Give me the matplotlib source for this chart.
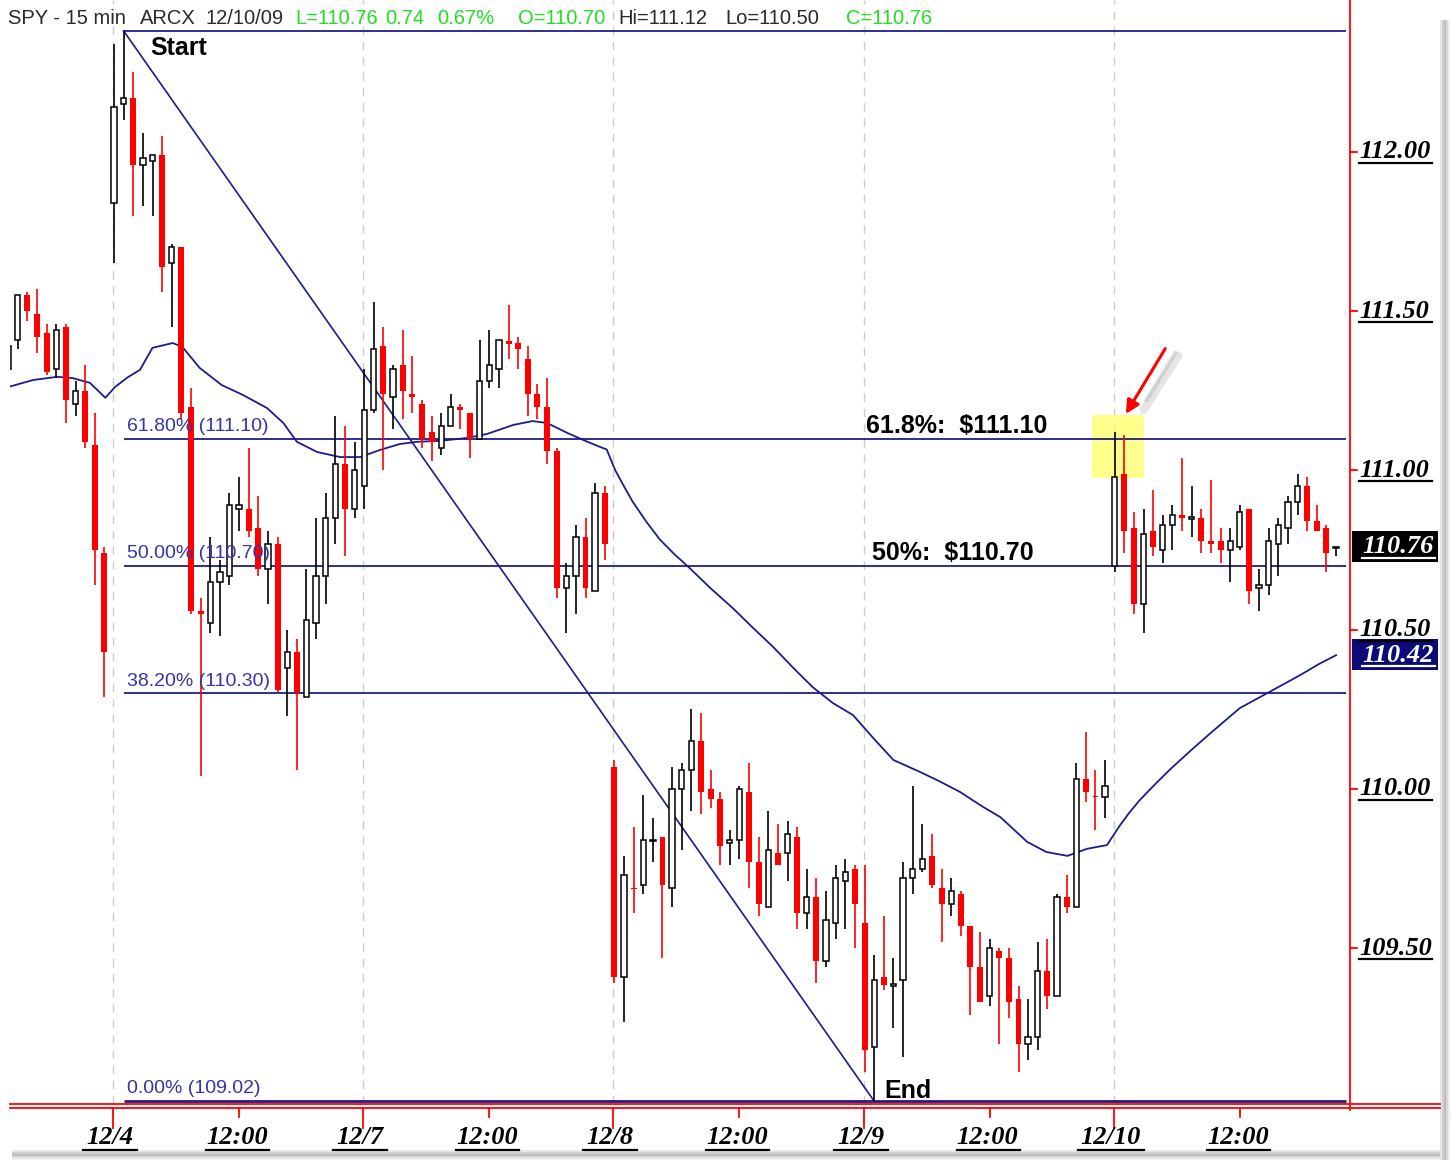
import numpy as np
import matplotlib
matplotlib.use("Agg")
import matplotlib.pyplot as plt
from matplotlib.lines import Line2D
from matplotlib.patches import Rectangle, FancyArrowPatch

# SPY 15 min bars, 12/3 (tail) to 12/10/09
opens = [111.32, 111.41, 111.55, 111.49, 111.43, 111.32, 111.45, 111.21, 111.25, 111.08, 110.74,
         111.84, 112.15, 112.17, 111.96, 111.97, 111.99, 111.65, 111.70, 111.20, 110.56, 110.52, 110.65,
         110.67, 110.88, 110.88, 110.82, 110.69, 110.77, 110.38, 110.43, 110.29, 110.52, 110.67, 110.85,
         111.02, 110.88,
         110.95, 111.19, 111.39, 111.23, 111.33, 111.24, 111.21, 111.12, 111.07, 111.14, 111.20, 111.18,
         111.10, 111.28, 111.32, 111.405, 111.40, 111.35, 111.24, 111.20, 111.06, 110.63, 110.67, 110.79,
         110.62, 110.93,
         110.07, 109.41, 109.69, 109.70, 109.837, 109.85, 109.69, 110.00, 110.06, 110.15, 110.00, 109.97,
         109.83, 109.84, 109.99, 109.77, 109.63, 109.80, 109.80, 109.85, 109.61, 109.66, 109.46, 109.58,
         109.71, 109.75,
         109.58, 109.19, 109.41, 109.382, 109.40, 109.72, 109.75, 109.79, 109.69, 109.64, 109.67, 109.57,
         109.44, 109.35, 109.49, 109.47, 109.34, 109.20, 109.22, 109.43, 109.35, 109.66, 109.63, 110.03,
         109.978, 109.975,
         110.70, 110.99, 110.82, 110.58, 110.81, 110.75, 110.83, 110.86, 110.848, 110.85, 110.78, 110.78,
         110.75, 110.76, 110.88, 110.63, 110.64, 110.77, 110.82, 110.90, 110.95, 110.84, 110.82, 110.755]
highs = [111.40, 111.55, 111.56, 111.57, 111.46, 111.46, 111.46, 111.28, 111.33, 111.18, 110.76,
         112.34, 112.38, 112.25, 112.06, 111.99, 112.05, 111.71, 111.70, 111.26, 110.60, 110.79, 110.72,
         110.93, 110.98, 111.07, 110.92, 110.81, 110.79, 110.50, 110.47, 110.69, 110.85, 110.93, 111.17,
         111.14, 111.09,
         111.32, 111.53, 111.45, 111.33, 111.44, 111.36, 111.22, 111.17, 111.18, 111.24, 111.21, 111.18,
         111.41, 111.44, 111.41, 111.52, 111.42, 111.39, 111.27, 111.29, 111.07, 110.71, 110.83, 110.85,
         110.96, 110.95,
         110.09, 109.79, 109.88, 109.98, 109.91, 109.85, 110.07, 110.08, 110.25, 110.24, 110.06, 109.99,
         109.87, 110.01, 110.08, 109.85, 109.93, 109.89, 109.90, 109.88, 109.75, 109.72, 109.68, 109.76,
         109.78, 109.76,
         109.76, 109.48, 109.60, 109.47, 109.77, 110.01, 109.89, 109.86, 109.75, 109.72, 109.68, 109.57,
         109.55, 109.53, 109.50, 109.50, 109.38, 109.34, 109.52, 109.53, 109.67, 109.73, 110.08, 110.18,
         110.06, 110.09,
         111.12, 111.11, 110.87, 110.88, 110.94, 110.86, 110.89, 111.04, 110.95, 110.88, 110.97, 110.82,
         110.82, 110.89, 110.88, 110.69, 110.82, 110.85, 110.92, 110.99, 110.98, 110.89, 110.83, 110.76]
lows = [111.30, 111.38, 111.47, 111.37, 111.30, 111.29, 111.15, 111.17, 111.07, 110.64, 110.29,
        111.65, 112.10, 111.80, 111.83, 111.80, 111.56, 111.45, 111.16, 110.55, 110.04, 110.49, 110.48,
        110.64, 110.81, 110.79, 110.67, 110.58, 110.30, 110.23, 110.06, 110.29, 110.47, 110.58, 110.77,
        110.73, 110.85,
        110.88, 111.18, 111.00, 111.13, 111.16, 111.18, 111.07, 111.03, 111.05, 111.14, 111.13, 111.04,
        111.10, 111.26, 111.26, 111.35, 111.32, 111.17, 111.16, 111.02, 110.60, 110.49, 110.55, 110.60,
        110.62, 110.72,
        109.39, 109.27, 109.61, 109.67, 109.77, 109.47, 109.63, 109.81, 109.93, 109.92, 109.94, 109.76,
        109.76, 109.78, 109.69, 109.60, 109.63, 109.76, 109.71, 109.56, 109.56, 109.39, 109.44, 109.53,
        109.56, 109.50,
        109.11, 109.02, 109.37, 109.25, 109.16, 109.67, 109.74, 109.69, 109.52, 109.60, 109.54, 109.29,
        109.33, 109.32, 109.20, 109.28, 109.11, 109.15, 109.18, 109.31, 109.35, 109.61, 109.63, 109.96,
        109.87, 109.91,
        110.68, 110.74, 110.55, 110.49, 110.73, 110.71, 110.75, 110.81, 110.79, 110.74, 110.74, 110.71,
        110.65, 110.75, 110.58, 110.56, 110.61, 110.67, 110.77, 110.86, 110.81, 110.81, 110.68, 110.73]
closes = [111.39, 111.55, 111.50, 111.42, 111.31, 111.44, 111.22, 111.25, 111.09, 110.75, 110.43,
          112.14, 112.17, 111.96, 111.98, 111.99, 111.64, 111.70, 111.18, 110.56, 110.55, 110.65, 110.68,
          110.89, 110.89, 110.81, 110.69, 110.77, 110.31, 110.43, 110.30, 110.53, 110.67, 110.85, 111.02,
          110.88, 111.00,
          111.19, 111.38, 111.24, 111.32, 111.25, 111.23, 111.10, 111.09, 111.14, 111.20, 111.19, 111.10,
          111.28, 111.33, 111.41, 111.398, 111.38, 111.24, 111.20, 111.06, 110.63, 110.67, 110.79, 110.63,
          110.93, 110.77,
          109.41, 109.73, 109.685, 109.84, 109.84, 109.70, 110.00, 110.06, 110.15, 109.99, 109.97, 109.82,
          109.84, 110.00, 109.77, 109.64, 109.81, 109.76, 109.86, 109.61, 109.66, 109.46, 109.59, 109.72,
          109.74, 109.64,
          109.18, 109.40, 109.385, 109.388, 109.72, 109.75, 109.78, 109.70, 109.64, 109.68, 109.57, 109.44,
          109.33, 109.50, 109.47, 109.33, 109.20, 109.22, 109.43, 109.35, 109.66, 109.63, 110.03, 109.99,
          109.975, 110.01,
          110.98, 110.81, 110.58, 110.80, 110.76, 110.83, 110.86, 110.85, 110.854, 110.78, 110.77, 110.75,
          110.78, 110.87, 110.62, 110.64, 110.78, 110.83, 110.90, 110.95, 110.84, 110.81, 110.74, 110.76]

# moving average, read at sample bars
ma_bar = [0, 2.6, 5.1, 6.7, 8.5, 10.1, 11.1, 12.4, 13.7, 15.0, 17.1, 18.1, 19.9, 22.2, 24.4, 26.9,
          28.6, 30.0, 32.1, 34.5, 36.6, 38.6, 40.7, 42.5, 44.9, 47.7, 49.8, 52.5, 54.5, 56.0, 58.1,
          60.2, 61.5, 62.2, 63.1, 64.0, 64.9, 66.3, 67.7, 69.2, 70.7, 73.0, 75.3, 77.4, 79.5, 81.6,
          83.6, 85.7, 87.8, 89.9, 92.0, 94.8, 96.8, 98.9, 101.3, 103.1, 104.5, 105.9, 107.9, 110.1,
          112.1, 114.2, 115.5, 116.5, 117.6, 119.1, 120.7, 122.8, 124.9, 128.0, 131.1, 134.3, 136.2, 138.0]
ma_val = [111.262, 111.284, 111.294, 111.290, 111.275, 111.228, 111.262, 111.292, 111.316, 111.385,
          111.400, 111.388, 111.322, 111.268, 111.237, 111.196, 111.149, 111.090, 111.058, 111.042,
          111.042, 111.064, 111.083, 111.090, 111.093, 111.102, 111.115, 111.143, 111.155, 111.149,
          111.118, 111.090, 111.074, 111.066, 111.000, 110.950, 110.902, 110.840, 110.784, 110.738,
          110.697, 110.630, 110.568, 110.506, 110.446, 110.380, 110.320, 110.270, 110.232, 110.160,
          110.091, 110.053, 110.024, 109.991, 109.944, 109.912, 109.873, 109.834, 109.802, 109.790,
          109.812, 109.824, 109.884, 109.925, 109.965, 110.012, 110.060, 110.118, 110.174, 110.254,
          110.305, 110.358, 110.392, 110.420]

fib_levels = [112.38, 111.10, 110.70, 110.30, 109.02]
fib_labels = ["", "61.80% (111.10)", "50.00% (110.70)", "38.20% (110.30)", "0.00% (109.02)"]
y_ticks = [112.00, 111.50, 111.00, 110.50, 110.00, 109.50]
day_bars = [11, 37, 63, 89, 115]
day_labels = ["12/4", "12/7", "12/8", "12/9", "12/10"]

W, H = 1452, 1161
RED = "#ff0000"
NAVY = "#1c1c8c"

def fx(px):
    return px / W

def fy(py):
    return 1 - py / H

fig = plt.figure(figsize=(W / 100, H / 100), dpi=100)
fig.patch.set_facecolor("white")
ax = fig.add_axes([fx(10), fy(1104), (1350 - 10) / W, 1104 / H])
ax.set_xlim(0.19, 139.45)
ax.set_ylim(109.011, 112.477)
ax.axis("off")

o = np.array(opens); c = np.array(closes); hi = np.array(highs); lo = np.array(lows)
idx = np.arange(len(o))
up = c >= o

# day separators
for b in day_bars:
    ax.axvline(b - 0.1, color="#cccccc", lw=1, ls=(0, (6, 5)), zorder=1)

# yellow highlight + fib lines
ax.add_patch(Rectangle((112.6, 110.975), 5.4, 0.2, color="#ffff70", alpha=0.8, lw=0, zorder=1.5))
for lv in fib_levels:
    ax.hlines(lv, 12, 139, color=NAVY, lw=2.0 if lv == 109.02 else 1.3, zorder=2)
for lv, lab in zip(fib_levels, fib_labels):
    if lab:
        ax.text(12.3, lv + 0.012, lab, color="#3535a5", fontsize=14, family="Liberation Sans",
                va="bottom", ha="left", zorder=6)

# start-end trend line and MA
ax.plot([12, 90], [112.38, 109.02], color=NAVY, lw=1.2, zorder=2)
ax.plot(ma_bar, ma_val, color=NAVY, lw=1.3, zorder=2)

# candles
colors = np.where(up, "black", RED)
ax.vlines(idx, lo, hi, colors=colors, lw=1.2, zorder=3)
body = np.maximum(np.abs(c - o), 0.004)
bot = np.minimum(o, c)
ax.bar(idx[up], body[up], 0.55, bot[up], facecolor="white", edgecolor="black", lw=1.1, zorder=4)
ax.bar(idx[~up], body[~up], 0.62, bot[~up], color=RED, lw=0, zorder=4)

# annotations
bold = dict(fontsize=18, fontweight="bold", family="Liberation Sans", va="center", ha="left", zorder=6)
ax.text(14.8, 112.325, "Start", **bold)
ax.text(91.1, 109.053, "End", **bold)
ax.text(89.2, 111.14, "61.8%:  $111.10", **bold)
ax.text(89.8, 110.74, "50%:  $110.70", **bold)

# red arrow with soft shadow
ax.plot([121.6, 118.0], [111.36, 111.19], color="#9a9a9a", lw=6, alpha=0.25,
        solid_capstyle="round", zorder=5)
ax.plot([121.3, 118.3], [111.37, 111.22], color="#9a9a9a", lw=3, alpha=0.3,
        solid_capstyle="round", zorder=5)
ax.add_patch(FancyArrowPatch((120.4, 111.39), (116.0, 111.17), arrowstyle="-|>", mutation_scale=20,
                             color=RED, lw=2.2, zorder=6))

# chart borders (red)
def fline(x0, y0, x1, y1, **kw):
    fig.add_artist(Line2D([fx(x0), fx(x1)], [fy(y0), fy(y1)], transform=fig.transFigure, **kw))

fline(1350, 0, 1350, 1110, color=RED, lw=1.3)
fline(10, 1104, 1440, 1104, color=RED, lw=1.3)
fline(10, 1108, 1440, 1108, color=RED, lw=1.3)

# price axis labels
def to_py(p):
    return (112.4772 - p) / 0.0031397

lab_font = dict(family="Liberation Serif", fontsize=19, fontweight="bold", style="italic")
for p in y_ticks:
    py = to_py(p)
    fline(1350, py, 1357, py, color=RED, lw=1.3)
    fig.text(fx(1359), fy(py), f"{p:.2f}", va="center", ha="left", color="black", **lab_font)
    fline(1359, py + 11, 1432, py + 11, color="black", lw=1.6)

for p, face in [(closes[-1], "black"), (ma_val[-1], "#0a0a78")]:
    py = to_py(p)
    fig.add_artist(Rectangle((fx(1352), fy(py + 15)), 86 / W, 31 / H, transform=fig.transFigure,
                             facecolor=face, lw=0))
    fig.text(fx(1362), fy(py), f"{p:.2f}", va="center", ha="left", color="white", **lab_font)
    fline(1362, py + 11, 1435, py + 11, color="white", lw=1.6)

# time axis labels
def bar_px(b):
    return 8.2 + 9.622 * b

for b, lab in zip(day_bars, day_labels):
    px = bar_px(b) - 1
    fline(px, 1108, px, 1128, color=RED, lw=1.3)
    fig.text(fx(px - 3), fy(1138), lab, va="center", ha="center", **lab_font)
    half = 15 + 6 * (len(lab) - 4)
    fline(px - 3 - half - 12, 1150, px - 3 + half + 12, 1150, color="black", lw=1.6)
    px2 = bar_px(b + 13)
    fline(px2, 1108, px2, 1117, color=RED, lw=1.3)
    fig.text(fx(px2 - 2), fy(1138), "12:00", va="center", ha="center", **lab_font)
    fline(px2 - 33, 1150, px2 + 30, 1150, color="black", lw=1.6)

# header line
hdr = [(8, "SPY - 15 min", "#2a2a2a"), (140, "ARCX", "#2a2a2a"), (205, "12/10/09", "#2a2a2a"),
       (295, "L=110.76", "#22dd22"), (385, "0.74", "#22dd22"), (437, "0.67%", "#22dd22"),
       (518, "O=110.70", "#22dd22"), (618, "Hi=111.12", "#2a2a2a"), (725, "Lo=110.50", "#2a2a2a"),
       (846, "C=110.76", "#22dd22")]
for x0, s, col in hdr:
    fig.text(fx(x0), fy(19), s, color=col, fontsize=14.5, va="center", ha="left",
             family="Liberation Sans")

# drop shadow of the window
for k, g in enumerate(["#e6e6e6", "#d0d0d0", "#bdbdbd", "#d8d8d8", "#eeeeee"]):
    fig.add_artist(Rectangle((fx(1440 + 2 * k), fy(1160)), 2 / W, (1150 - 10) / H,
                             transform=fig.transFigure, facecolor=g, lw=0))
    fig.add_artist(Rectangle((fx(12), fy(1152 + 2 * k)), (1440 - 12) / W, 2 / H,
                             transform=fig.transFigure, facecolor=g, lw=0))

fig.savefig("out.png", dpi=100)
